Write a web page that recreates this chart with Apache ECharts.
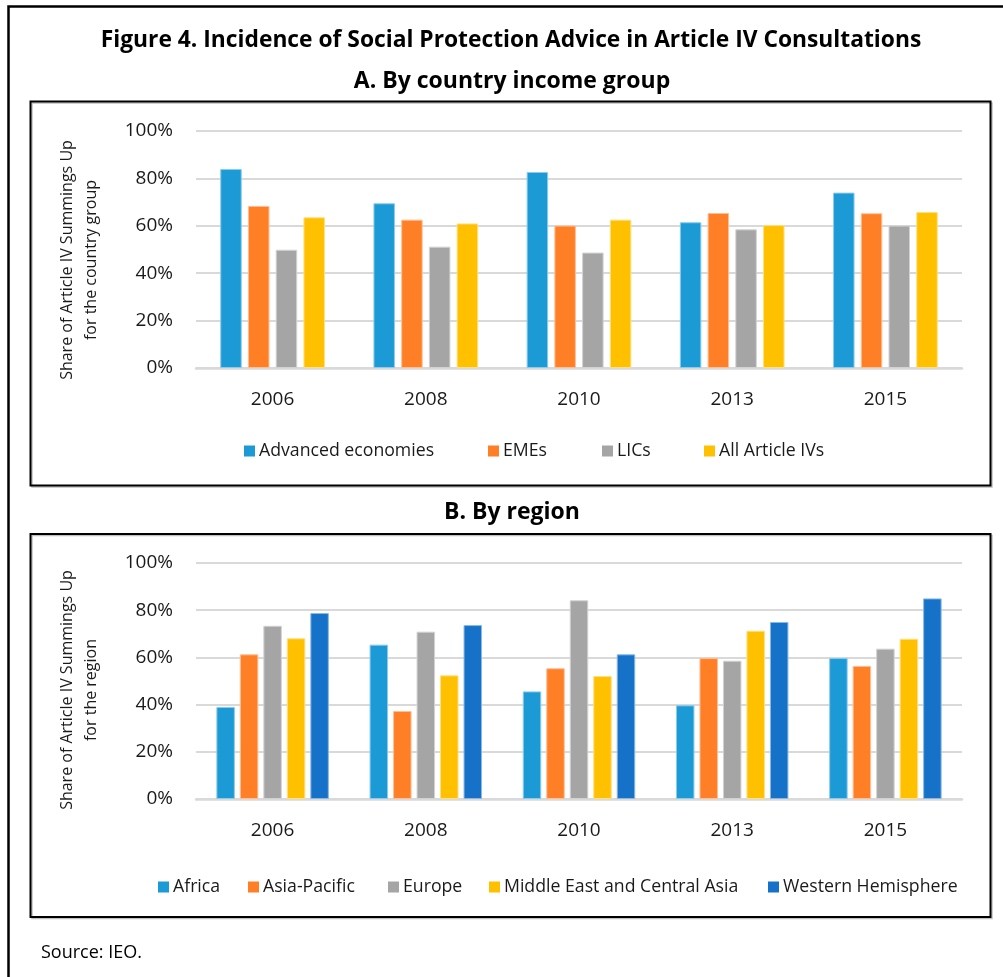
<!DOCTYPE html>
<html>
<head>
<meta charset="utf-8">
<script src="https://cdn.jsdelivr.net/npm/echarts@6/dist/echarts.min.js"></script>
<style>
  html, body { margin: 0; padding: 0; background: #fff; }
  #chart { width: 1003px; height: 977px; }
</style>
</head>
<body>
<div id="chart"></div>
<script>
// Survey years shared by both panels
const years = ['2006', '2008', '2010', '2013', '2015'];

// Panel A: share of Article IV summings up with social protection advice, by income group (%)
const incomeGroups = ['Advanced economies', 'EMEs', 'LICs', 'All Article IVs'];
const advancedEconomies = [84.0, 69.5, 82.7, 61.5, 74.0];
const emes              = [68.4, 62.6, 60.1, 65.4, 65.3];
const lics              = [49.9, 51.2, 48.7, 58.5, 60.1];
const allArticleIVs     = [63.6, 61.0, 62.6, 60.3, 65.8];

// Panel B: same share, by region (%)
const regions = ['Africa', 'Asia-Pacific', 'Europe', 'Middle East and Central Asia', 'Western Hemisphere'];
const africa             = [39.0, 65.4, 45.6, 39.7, 59.7];
const asiaPacific        = [61.3, 37.3, 55.4, 59.7, 56.4];
const europe             = [73.4, 70.9, 84.2, 58.6, 63.7];
const middleEastCAsia    = [68.1, 52.4, 52.1, 71.3, 67.9];
const westernHemisphere  = [78.8, 73.7, 61.3, 75.0, 85.0];

const yTicks = [0, 20, 40, 60, 80, 100];

const FONT = '"Open Sans", "Noto Sans", sans-serif';
const colA = ['#1B9AD6', '#FF7F27', '#A5A5A5', '#FFC000'];
const edgeA = ['#8CCBEB', '#FFBE93', '#D2D2D2', '#FFDF80'];
const colB = ['#1B9AD6', '#FF7F27', '#A5A5A5', '#FFC000', '#1672C8'];
const edgeB = ['#8CCBEB', '#FFBE93', '#D2D2D2', '#FFDF80', '#8AB8E3'];

const chart = echarts.init(document.getElementById('chart'), null, { renderer: 'canvas' });

function xAxisFor(gridIndex) {
  return {
    type: 'category', gridIndex, data: years,
    axisTick: { show: false },
    axisLine: { lineStyle: { color: '#D9D9D9', width: 2.5 } },
    axisLabel: { color: '#1a1a1a', fontFamily: FONT, fontSize: 19, margin: 22 }
  };
}
function yAxisFor(gridIndex) {
  return {
    type: 'value', gridIndex, min: yTicks[0], max: yTicks[yTicks.length - 1], interval: 20,
    axisLine: { show: false }, axisTick: { show: false },
    splitLine: { lineStyle: { color: '#D9D9D9', width: 2 } },
    axisLabel: { color: '#1a1a1a', fontFamily: FONT, fontSize: 19, margin: 23,
                 formatter: v => v + '%' }
  };
}

const seriesA = [advancedEconomies, emes, lics, allArticleIVs].map((d, i) => ({
  name: incomeGroups[i], type: 'bar', xAxisIndex: 0, yAxisIndex: 0, data: d,
  barWidth: 21.5, barGap: '29%',
  itemStyle: { color: colA[i], borderColor: edgeA[i], borderWidth: 1 }
}));
const seriesB = [africa, asiaPacific, europe, middleEastCAsia, westernHemisphere].map((d, i) => ({
  name: regions[i] + ' ', type: 'bar', xAxisIndex: 1, yAxisIndex: 1, data: d,
  barWidth: 18.5, barGap: '27%',
  itemStyle: { color: colB[i], borderColor: edgeB[i], borderWidth: 1 }
}));

// One legend per entry so each can sit where it belongs
const legendA_left = [244, 488, 602, 704];
const legendB_left = [158, 248, 388, 489, 768];
function legendItem(name, left, top) {
  return {
    data: [name], left, top, icon: 'rect', itemWidth: 11, itemHeight: 11,
    padding: 0, itemGap: 0, selectedMode: false,
    itemStyle: { borderWidth: 0 },
    textStyle: { color: '#1a1a1a', fontFamily: FONT, fontSize: 17.7, padding: [0, 0, 0, -1] }
  };
}
const legends = [
  ...incomeGroups.map((n, i) => legendItem(n, legendA_left[i], 442)),
  ...regions.map((n, i) => legendItem(n + ' ', legendB_left[i], 878))
];

function boxFrame(x1, y1, x2, y2) {
  return [
    { type: 'rect', shape: { x: x1 + 1.5, y: y1 + 1.5, width: x2 - x1, height: y2 - y1 },
      style: { fill: 'none', stroke: '#BFBFBF', lineWidth: 1.5 }, z: 10 },
    { type: 'rect', shape: { x: x1, y: y1, width: x2 - x1, height: y2 - y1 },
      style: { fill: 'none', stroke: '#000', lineWidth: 2 }, z: 11 }
  ];
}
function text(str, x, y, size, weight, align, extra) {
  const el = {
    type: 'text', x, y, z: 20,
    style: { text: str, fontFamily: FONT, fontSize: size, fontWeight: weight, fill: '#000',
             textAlign: align, textVerticalAlign: 'middle' }
  };
  if (extra) {
    if (extra.rotation !== undefined) el.rotation = extra.rotation;
    Object.assign(el.style, extra.style || {});
  }
  return el;
}

const option = {
  animation: false,
  backgroundColor: '#fff',
  grid: [
    { left: 196, right: 41, top: 131, bottom: 977 - 368 },
    { left: 196, right: 41, top: 563, bottom: 977 - 799 }
  ],
  xAxis: [xAxisFor(0), xAxisFor(1)],
  yAxis: [yAxisFor(0), yAxisFor(1)],
  legend: legends,
  series: [...seriesA, ...seriesB],
  graphic: [
    // outer figure frame (open towards right/bottom edge of the page)
    { type: 'polyline', shape: { points: [[8.5, 990], [8.5, 6.5], [1010, 6.5]] },
      style: { fill: 'none', stroke: '#000', lineWidth: 2.5 }, z: 11 },
    ...boxFrame(30.5, 101.5, 990.5, 485.5),
    ...boxFrame(30.5, 534, 990.5, 917),
    text('Figure 4. Incidence of Social Protection Advice in Article IV Consultations', 511, 41, 22.8, 'bold', 'center'),
    text('A. By country income group', 512, 81, 23, 'bold', 'center'),
    text('B. By region', 512, 512, 23, 'bold', 'center'),
    text('Source: IEO.', 41, 953, 18, 'normal', 'left'),
    text('Share of Article IV Summings Up\nfor the country group', 79, 260, 16, 'normal', 'center',
      { rotation: Math.PI / 2, style: { fill: '#1a1a1a', lineHeight: 24 } }),
    text('Share of Article IV Summings Up\nfor the region', 79, 690, 16, 'normal', 'center',
      { rotation: Math.PI / 2, style: { fill: '#1a1a1a', lineHeight: 24 } })
  ]
};
chart.setOption(option);
</script>
</body>
</html>
